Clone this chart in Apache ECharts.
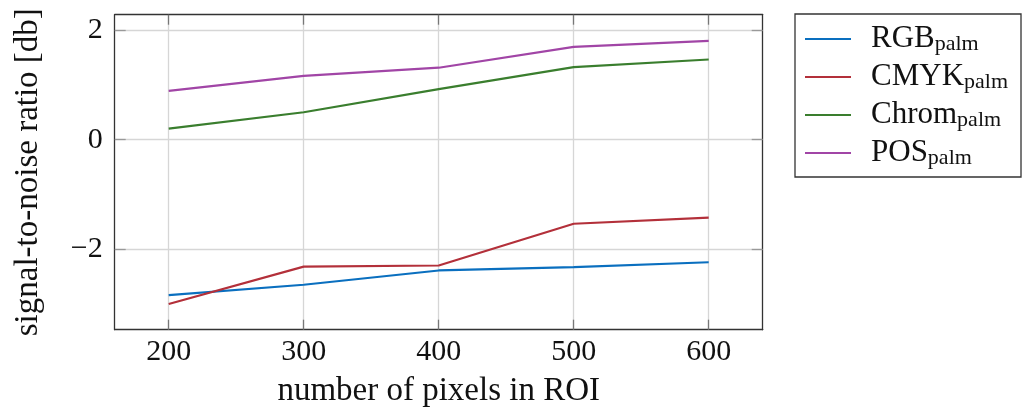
<!DOCTYPE html>
<html>
<head>
<meta charset="utf-8">
<script src="https://cdn.jsdelivr.net/npm/echarts@6/dist/echarts.min.js"></script>
<style>
  html, body { margin: 0; padding: 0; background: #fff; }
  #chart { width: 1026px; height: 408px; }
</style>
</head>
<body>
<div id="chart"></div>
<script>
// Signal-to-noise ratio per colour-space method vs. ROI size
const pixels = [200, 300, 400, 500, 600];
const rgbPalm = [-2.83, -2.64, -2.38, -2.32, -2.23];
const cmykPalm = [-2.99, -2.31, -2.29, -1.53, -1.42];
const chromPalm = [0.20, 0.50, 0.92, 1.32, 1.46];
const posPalm = [0.89, 1.16, 1.31, 1.69, 1.80];

const seriesNames = ['RGB', 'CMYK', 'Chrom', 'POS'];
const seriesValues = [rgbPalm, cmykPalm, chromPalm, posPalm];
const seriesColors = ['#0a6fbf', '#b3303a', '#3a7e2e', '#a145a6'];

const xTicks = [200, 300, 400, 500, 600];
const yTicks = [-2, 0, 2];

const FONT = 'Liberation Serif';

const frameLine = { show: true, onZero: false, lineStyle: { color: '#333', width: 1.3 } };

function pairs(xs, ys) { return xs.map((x, i) => [x, ys[i]]); }

const chart = echarts.init(document.getElementById('chart'), null, { renderer: 'canvas' });

chart.setOption({
  animation: false,
  backgroundColor: '#fff',
  grid: { left: 114.7, right: 263.3, top: 14.7, bottom: 78.3, containLabel: false, outerBoundsMode: 'none' },
  xAxis: [
    {
      type: 'value', min: 160, max: 640, position: 'bottom',
      axisLine: frameLine,
      axisTick: { show: true, inside: true, length: 10, customValues: xTicks, lineStyle: { color: '#777', width: 1.3 } },
      axisLabel: { customValues: xTicks, fontFamily: FONT, fontSize: 30, color: '#111', margin: 7 },
      splitLine: { show: true, lineStyle: { color: '#d6d6d6', width: 1.3 } },
      name: 'number of pixels in ROI', nameLocation: 'middle', nameGap: 45,
      nameTextStyle: { fontFamily: FONT, fontSize: 33, color: '#111' }
    },
    {
      type: 'value', min: 160, max: 640, position: 'top',
      axisLine: frameLine,
      axisTick: { show: true, inside: true, length: 10, customValues: xTicks, lineStyle: { color: '#777', width: 1.3 } },
      axisLabel: { show: false },
      splitLine: { show: false }
    }
  ],
  yAxis: [
    {
      type: 'value', min: -3.458, max: 2.275, position: 'left',
      axisLine: frameLine,
      axisTick: { show: true, inside: true, length: 11, customValues: yTicks, lineStyle: { color: '#999', width: 1.3 } },
      axisLabel: {
        customValues: yTicks, fontFamily: FONT, fontSize: 30, color: '#111', margin: 12,
        formatter: v => String(v).replace('-', '\u2212')
      },
      splitLine: { show: true, lineStyle: { color: '#d6d6d6', width: 1.3 } },
      name: 'signal-to-noise ratio [db]', nameLocation: 'middle', nameGap: 70,
      nameTextStyle: { fontFamily: FONT, fontSize: 33, color: '#111' }
    },
    {
      type: 'value', min: -3.458, max: 2.275, position: 'right',
      axisLine: frameLine,
      axisTick: { show: true, inside: true, length: 11, customValues: yTicks, lineStyle: { color: '#999', width: 1.3 } },
      axisLabel: { show: false },
      splitLine: { show: false }
    }
  ],
  legend: {
    orient: 'vertical', left: 795, top: 14,
    padding: [9, 13, 8, 10],
    icon: 'rect',
    itemWidth: 46, itemHeight: 2, itemGap: 6,
    borderColor: '#333', borderWidth: 1.3, borderRadius: 0,
    data: seriesNames.map(n => n + '_palm'),
    formatter: name => '{m|' + name.replace('_palm', '') + '}{s|palm}',
    textStyle: {
      color: '#111', fontFamily: FONT,
      rich: {
        m: { fontFamily: FONT, fontSize: 31, lineHeight: 32, verticalAlign: 'top', padding: [0, 0, 0, 15], color: '#111' },
        s: { fontFamily: FONT, fontSize: 22, lineHeight: 17, verticalAlign: 'bottom', color: '#111' }
      }
    }
  },
  series: seriesNames.map((n, i) => ({
    name: n + '_palm',
    type: 'line',
    xAxisIndex: 0, yAxisIndex: 0,
    symbol: 'none',
    data: pairs(pixels, seriesValues[i]),
    lineStyle: { color: seriesColors[i], width: 2.2 },
    itemStyle: { color: seriesColors[i] }
  }))
});
</script>
</body>
</html>
